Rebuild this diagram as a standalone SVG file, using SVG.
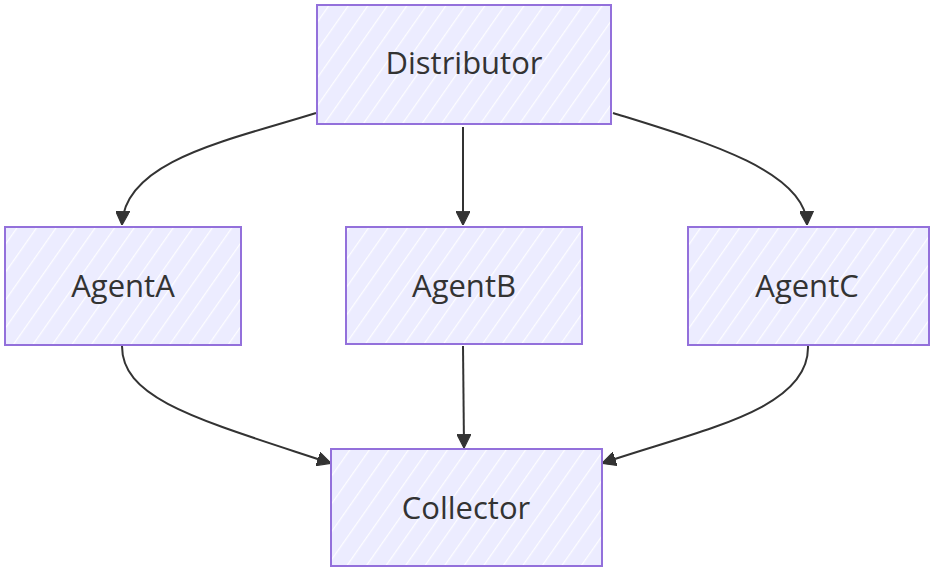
<svg xmlns="http://www.w3.org/2000/svg" width="936" height="569" viewBox="0 0 936 569">
<defs>
<pattern id="hatch" width="16" height="16" patternUnits="userSpaceOnUse" patternTransform="rotate(35)">
<rect width="16" height="16" fill="#ECECFF"/>
<line x1="0" y1="0" x2="0" y2="16" stroke="#ffffff" stroke-width="2.5" opacity="0.9"/>
</pattern>
<marker id="arr" viewBox="0 0 12 12" refX="11" refY="6" markerWidth="14" markerHeight="14" markerUnits="userSpaceOnUse" orient="auto">
<path d="M0,0 L12,6 L0,12 Z" fill="#333333" stroke="#333333" stroke-width="1"/>
</marker>
</defs>
<style>
.node rect{fill:url(#hatch);stroke:#9370DB;stroke-width:2}
.node text{font-family:"Open Sans","DejaVu Sans",sans-serif;font-size:31px;fill:#333333;text-anchor:middle;dominant-baseline:central}
.edges path{fill:none;stroke:#333333;stroke-width:2;marker-end:url(#arr)}
</style>
<g class="edges">
<path d="M316,113 C230,140 125,160 122,224"/>
<path d="M463,127 L463,224"/>
<path d="M613,113 C700,140 805,170 807,224"/>
<path d="M122,346 C122,400 200,420 330,463"/>
<path d="M463,346 L464,447"/>
<path d="M808,346 C810,410 700,430 603,463"/>
</g>
<g id="Distributor" class="node"><rect x="317" y="5" width="294" height="119"/><text x="464" y="62">Distributor</text></g>
<g id="AgentA" class="node"><rect x="5" y="227" width="236" height="118"/><text x="123" y="285">AgentA</text></g>
<g id="AgentB" class="node"><rect x="346" y="227" width="236" height="117"/><text x="464" y="285">AgentB</text></g>
<g id="AgentC" class="node"><rect x="688" y="227" width="241" height="118"/><text x="807" y="285">AgentC</text></g>
<g id="Collector" class="node"><rect x="331" y="449" width="271" height="117"/><text x="466" y="507">Collector</text></g>
</svg>
